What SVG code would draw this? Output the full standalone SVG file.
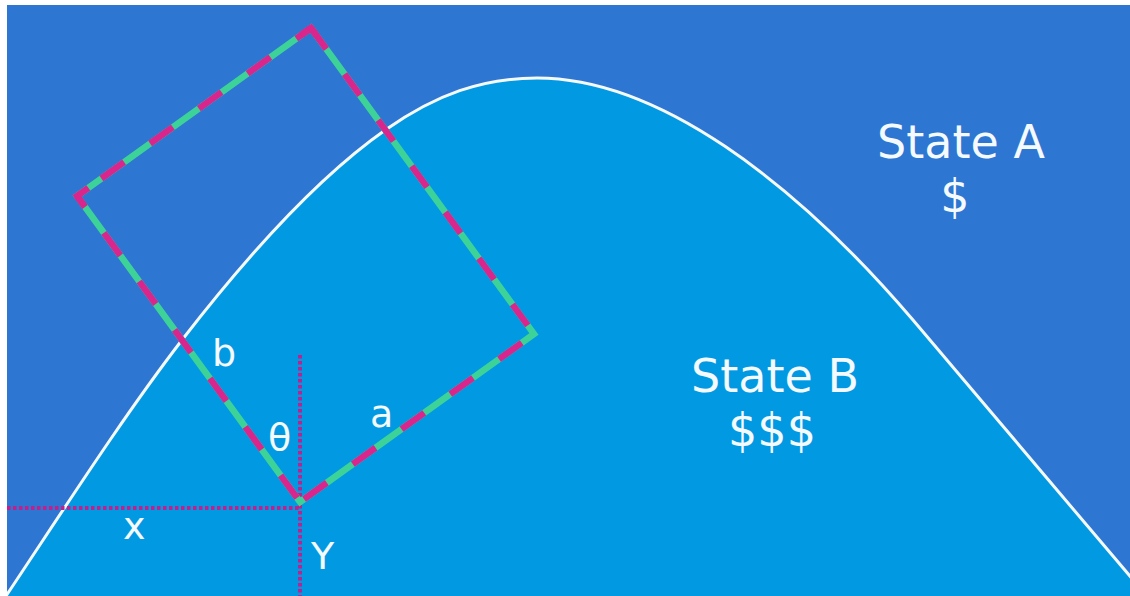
<svg xmlns="http://www.w3.org/2000/svg" width="1130" height="596" viewBox="0 0 1130 596">
  <style>
    .lbl { font-family: "DejaVu Sans", "Liberation Sans", sans-serif; fill: #f4faff; }
    .big { font-size: 46px; text-anchor: middle; }
    .small { font-size: 38px; }
    .edge-g { fill: none; stroke: #3dd398; stroke-width: 6.5; stroke-linejoin: miter; }
    .edge-m { fill: none; stroke: #d8268c; stroke-width: 6.5; stroke-linecap: butt; stroke-dasharray: 28 32; }
    .corner-m { fill: none; stroke: #d8268c; stroke-width: 6.5; stroke-linejoin: miter; stroke-linecap: butt; }
    .dots { fill: none; stroke: #c21f8c; stroke-width: 4; stroke-dasharray: 3.5 2.5; }
  </style>
  <defs>
    <clipPath id="frame">
      <rect x="7" y="5" width="1123" height="591"/>
    </clipPath>
  </defs>
  <rect width="1130" height="596" fill="#ffffff"/>
  <g id="background">
    <rect x="7" y="5" width="1123" height="591" fill="#2d76d2"/>
  </g>
  <g id="curve" clip-path="url(#frame)">
    <path d="M 0,605 L 6,596 C 65,507.5 123,416.7 182,340 C 250,252 318,177 386,129.5 C 436,94.5 482,78 537,78 C 657,78 793,179.6 913,320 C 988.7,409.3 1064.3,498.6 1140,588 L 1150,600 L 1150,610 L 0,610 Z" fill="#0299e3"/>
    <path d="M 0,605 L 6,596 C 65,507.5 123,416.7 182,340 C 250,252 318,177 386,129.5 C 436,94.5 482,78 537,78 C 657,78 793,179.6 913,320 C 988.7,409.3 1064.3,498.6 1140,588 L 1150,600" fill="none" stroke="#f4faff" stroke-width="3"/>
  </g>
  <g id="connectors">
    <line class="dots" x1="7" y1="508" x2="300" y2="508"/>
    <line class="dots" x1="300" y1="355" x2="300" y2="596"/>
  </g>
  <g id="box">
    <path class="edge-g" d="M 300,502 L 534,334 L 311,28 L 77,196 Z"/>
    <path class="edge-m" d="M 300,502 L 534,334" stroke-dashoffset="55"/>
    <path class="edge-m" d="M 300,502 L 77,196" stroke-dashoffset="55"/>
    <path class="edge-m" d="M 311,28 L 534,334" style="stroke-dasharray: 26 31" stroke-dashoffset="0"/>
    <path class="edge-m" d="M 77,196 L 311,28" stroke-dashoffset="30"/>
    <path class="corner-m" d="M 88.4,187.8 L 77,196 L 84.1,205.7"/>
    <path class="corner-m" d="M 301.2,35 L 311,28 L 316.9,36.1"/>
  </g>
  <g id="state-a">
    <text class="lbl big" x="961" y="158">State A</text>
    <text class="lbl big" x="955" y="212">$</text>
  </g>
  <g id="state-b">
    <text class="lbl big" x="775" y="392">State B</text>
    <text class="lbl big" x="772" y="446">$$$</text>
  </g>
  <g id="labels">
    <text class="lbl small" x="212" y="366">b</text>
    <text class="lbl small" x="268" y="450">θ</text>
    <text class="lbl small" x="370" y="427">a</text>
    <text class="lbl small" x="123" y="539">x</text>
    <text class="lbl small" x="311" y="569">Y</text>
  </g>
</svg>
